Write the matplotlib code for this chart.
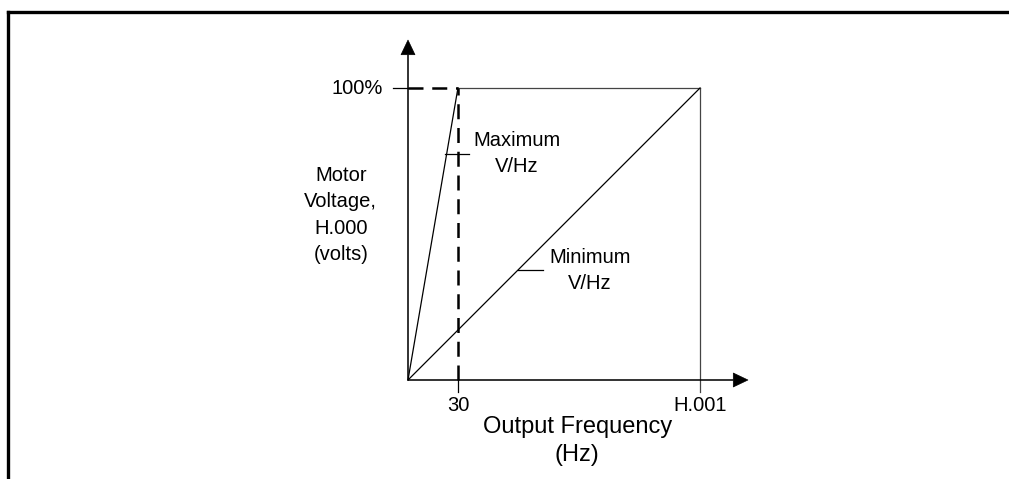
import matplotlib
matplotlib.use('Agg')
import matplotlib.pyplot as plt
from matplotlib.lines import Line2D

plt.rcParams['font.family'] = ['Liberation Sans', 'DejaVu Sans']

# frequency axis (fraction of H.001), voltage axis in %
freq_ticks = [0.171, 1.0]
freq_labels = ['30', 'H.001']
volt_max = 100

max_vhz_x = [0, 0.171]
max_vhz_y = [0, 100]
min_vhz_x = [0, 1.0]
min_vhz_y = [0, 100]

W, H = 1009, 479
fig = plt.figure(figsize=(W / 100, H / 100), dpi=100)
# origin at (408, 380) px, H.001 at x=700, 100% at y=88
ax = fig.add_axes([408 / W, (H - 380) / H, 292 / W, 292 / H])
ax.set_xlim(0, 1)
ax.set_ylim(0, 100)
ax.axis('off')

# outer frame (top and left only)
fig.add_artist(Line2D([8 / W, 1], [1 - 12 / H, 1 - 12 / H], transform=fig.transFigure, color='black', lw=2.4))
fig.add_artist(Line2D([8 / W, 8 / W], [0, 1 - 12 / H], transform=fig.transFigure, color='black', lw=2.4))

k = dict(color='black', lw=0.9, clip_on=False)

# axes with arrows
ax.annotate('', xy=(0, 116.4), xytext=(0, 0), annotation_clip=False,
            arrowprops=dict(width=0.4, headwidth=10, headlength=10.5, facecolor='black', edgecolor='black', lw=0.5))
ax.annotate('', xy=(1.164, 0), xytext=(0, 0), annotation_clip=False,
            arrowprops=dict(width=0.4, headwidth=10, headlength=10.5, facecolor='black', edgecolor='black', lw=0.5))

# 100% level
ax.plot([-0.051, 0], [volt_max, volt_max], **k)
ax.plot([0, freq_ticks[0]], [volt_max, volt_max], color='black', lw=1.8, ls=(0, (6, 3.5)), clip_on=False)
ax.plot([freq_ticks[0], freq_ticks[1]], [volt_max, volt_max], color='#444444', lw=0.9, clip_on=False)
ax.plot([freq_ticks[1], freq_ticks[1]], [-4.1, volt_max], color='#444444', lw=0.9, clip_on=False)

# dashed vertical at 30 Hz and tick
ax.plot([freq_ticks[0], freq_ticks[0]], [0, volt_max], color='black', lw=1.8, ls=(0, (6, 3.5)), clip_on=False)
ax.plot([freq_ticks[0], freq_ticks[0]], [-4.1, 0], **k)

# V/Hz lines
ax.plot(max_vhz_x, max_vhz_y, **k)
ax.plot(min_vhz_x, min_vhz_y, **k)

# leaders
ax.plot([0.127, 0.209], [77.4, 77.4], **k)
ax.plot([0.377, 0.462], [37.7, 37.7], **k)

fs = 14.5
ax.text(0.373, 77.6, 'Maximum\nV/Hz', ha='center', va='center', fontsize=fs, linespacing=1.5)
ax.text(0.624, 37.5, 'Minimum\nV/Hz', ha='center', va='center', fontsize=fs, linespacing=1.5)
ax.text(-0.086, volt_max, '100%', ha='right', va='center', fontsize=fs)
ax.text(-0.23, 56.5, 'Motor\nVoltage,\nH.000\n(volts)', ha='center', va='center', fontsize=fs, linespacing=1.5)

for x, lab in zip(freq_ticks, freq_labels):
    ax.text(x, -8.6, lab, ha='center', va='center', fontsize=fs)

ax.text(0.58, -20.9, 'Output Frequency\n(Hz)', ha='center', va='center', fontsize=17, linespacing=1.3)

fig.savefig('out.png', dpi=100, facecolor='white')
